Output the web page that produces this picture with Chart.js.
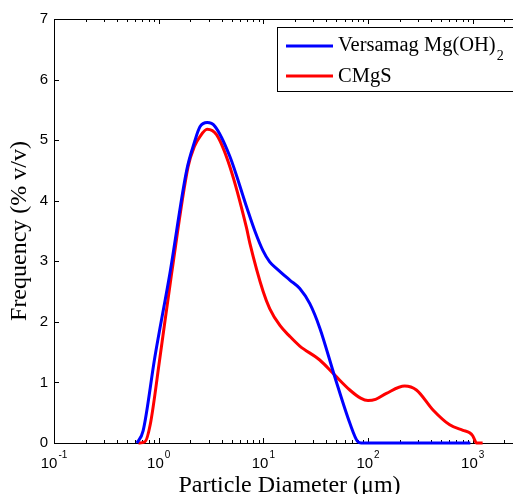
<!DOCTYPE html>
<html>
<head>
<meta charset="utf-8">
<script src="https://cdn.jsdelivr.net/npm/chart.js@4.4.0/dist/chart.umd.min.js"></script>
<style>
  html, body { margin: 0; padding: 0; background: #fff; overflow: hidden; }
  #wrap { width: 530px; height: 494px; }
</style>
</head>
<body>
<div id="wrap"><canvas id="psd" width="530" height="494"></canvas></div>
<script>
// particle size distributions (diameter in um, frequency in % v/v)
const versamagDiameter = [0.62, 0.71, 0.92, 1.28, 1.85, 2.2, 2.48, 2.91, 3.44, 4.79, 6.91, 8.3, 9.89, 11.5, 13.4, 17.9, 22.3, 27.8, 34.6, 48.2, 67, 80, 86, 100, 200, 500, 950]
const versamagFreq = [0, 0.2, 1.42, 2.8, 4.5, 4.97, 5.22, 5.29, 5.23, 4.73, 3.9, 3.5, 3.18, 2.99, 2.88, 2.69, 2.55, 2.3, 1.9, 1.09, 0.33, 0.02, 0, 0, 0, 0, 0]

const cmgsDiameter = [0.64, 0.74, 0.83, 1.03, 1.33, 1.91, 2.2, 2.48, 2.91, 3.57, 4.79, 6.91, 7.43, 9.96, 11.5, 14.4, 17.9, 22.3, 34.6, 48.2, 67, 85, 100, 118, 150, 224, 290, 418, 603, 808, 936, 1000, 1045, 1084, 1245]
const cmgsFreq = [0, 0.02, 0.3, 1.42, 2.8, 4.56, 4.9, 5.06, 5.18, 5.09, 4.56, 3.55, 3.3, 2.5, 2.22, 1.94, 1.76, 1.6, 1.37, 1.12, 0.875, 0.74, 0.7, 0.72, 0.82, 0.94, 0.875, 0.545, 0.3, 0.21, 0.17, 0.12, 0.05, 0, 0]

const seriesLabels = ['Versamag Mg(OH)₂', 'CMgS']
const xTitle = 'Particle Diameter (μm)'
const yTitle = 'Frequency (% v/v)'
const decades = [0.1, 1, 10, 100, 1000]
const yTicks = [0, 1, 2, 3, 4, 5, 6, 7]

const serif = '"Liberation Serif", "Times New Roman", serif'

// minor tick values 1..9 x each decade
let xTickValues = []
decades.forEach(d => {
    for (let k = 1; k <= 9; k++) {
        if (k * d <= 3162) xTickValues.push(k * d)
    }
})

function isDecade(v) {
    let l = Math.log10(v)
    return Math.abs(l - Math.round(l)) < 1e-9
}

// matlab-ish box with inward ticks, 10^n labels and the x title
const matlabAxes = {
    id: 'matlabAxes',
    beforeDatasetsDraw(chart) {
        const { ctx, chartArea: a, scales: { x, y } } = chart
        ctx.save()
        ctx.strokeStyle = '#000'
        ctx.lineWidth = 1
        ctx.beginPath()
        ctx.moveTo(a.left, a.top + 0.5)
        ctx.lineTo(a.right, a.top + 0.5)
        ctx.moveTo(a.right - 0.5, a.top)
        ctx.lineTo(a.right - 0.5, a.bottom)
        x.ticks.forEach(t => {
            let px = Math.round(x.getPixelForValue(t.value)) + 0.5
            let len = isDecade(t.value) ? 5 : 3
            ctx.moveTo(px, a.bottom)
            ctx.lineTo(px, a.bottom - len)
            ctx.moveTo(px, a.top)
            ctx.lineTo(px, a.top + len)
        })
        y.ticks.forEach(t => {
            let py = Math.round(y.getPixelForValue(t.value)) + 0.5
            ctx.moveTo(a.left, py)
            ctx.lineTo(a.left + 5, py)
            ctx.moveTo(a.right, py)
            ctx.lineTo(a.right - 5, py)
        })
        ctx.stroke()

        ctx.fillStyle = '#000'
        ctx.textBaseline = 'alphabetic'
        ctx.textAlign = 'left'
        x.ticks.filter(t => isDecade(t.value)).forEach(t => {
            let px = x.getPixelForValue(t.value)
            let e = Math.round(Math.log10(t.value))
            let exp = e < 0 ? '-' + Math.abs(e) : String(e)
            ctx.font = '15px "Liberation Sans"'
            let w1 = ctx.measureText('10').width
            ctx.font = '10px "Liberation Sans"'
            let w2 = ctx.measureText(exp).width
            let start = px - (w1 + w2 + 1) / 2
            ctx.font = '15px "Liberation Sans"'
            ctx.fillText('10', start, a.bottom + 25)
            ctx.font = '10px "Liberation Sans"'
            ctx.fillText(exp, start + w1 + 1, a.bottom + 15)
        })

        ctx.font = '24px ' + serif
        ctx.textAlign = 'center'
        ctx.fillText(xTitle, (x.left + x.right) / 2, a.bottom + 49)
        ctx.restore()
    },
    afterDraw(chart) {
        // legend box, top right
        const { ctx, chartArea: a } = chart
        let left = a.right - 248
        let top = a.top + 8
        ctx.save()
        ctx.fillStyle = '#fff'
        ctx.fillRect(left, top, 260, 64)
        ctx.strokeStyle = '#000'
        ctx.lineWidth = 1
        ctx.strokeRect(left + 0.5, top + 0.5, 260, 64)
        chart.data.datasets.forEach((ds, i) => {
            let ly = top + 19 + i * 30
            ctx.strokeStyle = ds.borderColor
            ctx.lineWidth = 3
            ctx.beginPath()
            ctx.moveTo(left + 9, ly)
            ctx.lineTo(left + 56, ly)
            ctx.stroke()
            ctx.fillStyle = '#000'
            ctx.textBaseline = 'alphabetic'
            let label = ds.label
            let sub = ''
            if (label.endsWith('₂')) {
                label = label.slice(0, -1)
                sub = '2'
            }
            ctx.font = '20.5px ' + serif
            ctx.fillText(label, left + 61, ly + 5 + i)
            if (sub) {
                let w = ctx.measureText(label).width
                ctx.font = '14px ' + serif
                ctx.fillText(sub, left + 61 + w + 1, ly + 14)
            }
        })
        ctx.restore()
    }
}

const psdChart = new Chart(document.getElementById('psd'), {
    type: 'line',
    data: {
        datasets: [{
            label: seriesLabels[0],
            data: versamagDiameter.map((d, i) => ({ x: d, y: versamagFreq[i] })),
            borderColor: '#0000ff',
            borderWidth: 3,
            pointRadius: 0,
            cubicInterpolationMode: 'monotone',
            clip: 4
        }, {
            label: seriesLabels[1],
            data: cmgsDiameter.map((d, i) => ({ x: d, y: cmgsFreq[i] })),
            borderColor: '#ff0000',
            borderWidth: 3,
            pointRadius: 0,
            cubicInterpolationMode: 'monotone',
            clip: 4
        }]
    },
    options: {
        responsive: false,
        animation: false,
        layout: { padding: { top: 19, right: 5, left: 0, bottom: 0 } },
        plugins: { legend: { display: false }, tooltip: { enabled: false } },
        scales: {
            x: {
                type: 'logarithmic',
                min: 0.1,
                max: 3162,
                afterBuildTicks: s => { s.ticks = xTickValues.map(v => ({ value: v })) },
                afterFit: s => { s.height = 51 },
                ticks: { display: false },
                grid: { display: false, drawTicks: false },
                border: { display: true, color: '#000', width: 1 },
                title: { display: false }
            },
            y: {
                min: 0,
                max: 7,
                afterBuildTicks: s => { s.ticks = yTicks.map(v => ({ value: v })) },
                afterFit: s => { s.width = 54 },
                ticks: { color: '#000', padding: 6, font: { family: 'Liberation Sans', size: 15 } },
                grid: { display: false, drawTicks: false },
                border: { display: true, color: '#000', width: 1 },
                title: {
                    display: true,
                    text: yTitle,
                    color: '#000',
                    font: { family: serif, size: 24, lineHeight: 1 },
                    padding: { top: 8, bottom: 0 }
                }
            }
        }
    },
    plugins: [matlabAxes]
})
</script>
</body>
</html>
